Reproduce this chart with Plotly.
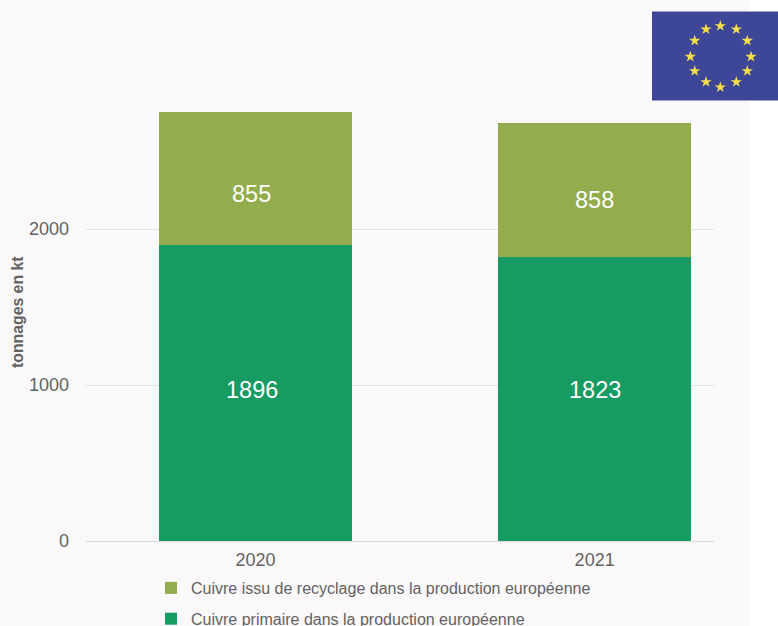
import plotly.graph_objects as go

W, H = 778, 626
years = ["2020", "2021"]
primary = [1896, 1823]
recycled = [855, 858]
primary_name = "Cuivre primaire dans la production européenne"
recycled_name = "Cuivre issu de recyclage dans la production européenne"
y_title = "tonnages en kt"
y_ticks = [0, 1000, 2000]
star_x = [720.3, 736.3, 747.3, 751, 747.3, 736.3, 720.3, 706, 694.7, 690.3, 694.7, 706]
star_y = [26, 29.3, 40.7, 56.7, 71, 82, 87.3, 82, 71, 56.7, 40.7, 29.3]
primary_label_shift = [3, 9]
recycled_label_shift = [-15, -10]
label_xshift = [[-4, 0], [-4, 0]]

FONT = "Liberation Sans, Arial, sans-serif"
GREY = "#636363"
fig = go.Figure()
fig.add_bar(x=years, y=primary, name=primary_name, marker=dict(color="#169c62", line_width=0),
            width=0.57, hoverinfo="skip", legendgroup="a", legendrank=2)
fig.add_bar(x=years, y=recycled, name=recycled_name, marker=dict(color="#93ad4e", line_width=0),
            width=0.57, hoverinfo="skip", legendgroup="b", legendrank=1)
fig.add_scatter(x=star_x, y=star_y, xaxis="x2", yaxis="y2", mode="markers", showlegend=False,
                hoverinfo="skip",
                marker=dict(symbol="star", size=8.5, color="#f4df4b", line_width=0))

annotations = [dict(xref="paper", yref="paper", x=17 / W, y=1 - 312 / H, text="<b>" + y_title + "</b>",
                    xanchor="center", yanchor="middle",
                    textangle=-90, showarrow=False, font=dict(family=FONT, size=15.8, color=GREY))]
for i, yr in enumerate(years):
    annotations.append(dict(xref="x", yref="y", x=i, y=primary[i] / 2, text=str(primary[i]), showarrow=False,
                            xshift=label_xshift[0][i], yshift=primary_label_shift[i],
                            font=dict(family=FONT, size=23.5, color="white")))
    annotations.append(dict(xref="x", yref="y", x=i, y=primary[i] + recycled[i] / 2, text=str(recycled[i]), showarrow=False,
                            xshift=label_xshift[1][i], yshift=recycled_label_shift[i],
                            font=dict(family=FONT, size=23.5, color="white")))

fig.update_layout(
    width=W, height=H, autosize=False, barmode="stack",
    margin=dict(l=0, r=0, t=0, b=0, autoexpand=False),
    paper_bgcolor="white", plot_bgcolor="rgba(0,0,0,0)",
    font=dict(family=FONT, color=GREY),
    xaxis=dict(domain=[86 / W, 714 / W], type="category", range=[-0.5, 1.352], showgrid=False,
               showline=False, zeroline=False, ticks="", tickfont=dict(size=18, color=GREY),
               fixedrange=True, ticklabelstandoff=6, automargin=False),
    yaxis=dict(domain=[(H - 541) / H, 1 - 20 / H], range=[0, 3340], tickvals=y_ticks,
               showgrid=True, gridcolor="#e4e2e4", gridwidth=1, zeroline=True, zerolinecolor="#dcdadc",
               zerolinewidth=1, showline=False, ticks="", tickfont=dict(size=18, color=GREY),
               ticklabelstandoff=16, fixedrange=True, automargin=False),
    xaxis2=dict(domain=[0, 1], range=[0, W], visible=False, fixedrange=True, anchor="y2"),
    yaxis2=dict(domain=[0, 1], range=[H, 0], visible=False, fixedrange=True, anchor="x2"),
    shapes=[
        dict(type="rect", xref="paper", yref="paper", x0=0, x1=750 / W, y0=0, y1=1, fillcolor="#faf8f9",
             line_width=0, layer="below"),
        dict(type="rect", xref="paper", yref="paper", x0=652 / W, x1=1, y0=1 - 100.5 / H, y1=1 - 11.5 / H,
             fillcolor="#3e4697", line_width=0, layer="below"),
    ],
    annotations=annotations,
    legend=dict(x=151 / W, y=1 - 571 / H, xanchor="left", yanchor="top", traceorder="grouped",
                orientation="v", bgcolor="rgba(0,0,0,0)", font=dict(size=16, color=GREY),
                tracegroupgap=7, itemwidth=30),
    bargap=0.43,
)
fig.write_html("out.html", config={"displayModeBar": False},
               post_script="document.body.style.margin='0';document.documentElement.style.overflow='hidden';")
